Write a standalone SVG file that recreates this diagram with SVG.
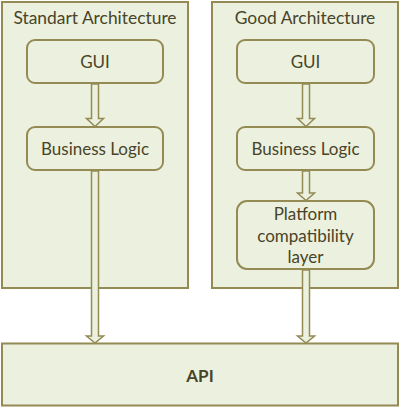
<svg xmlns="http://www.w3.org/2000/svg" width="400" height="407" viewBox="0 0 400 407">
<style>
.cont{fill:#EBF1DE;stroke:#948A54;stroke-width:2}
.box{fill:#EBF1DE;stroke:#948A54;stroke-width:2}
.arr{fill:#EBF1DE;stroke:#948A54;stroke-width:1.5;stroke-linejoin:miter}
text{font-family:Lato,"Open Sans",sans-serif;fill:#494429;text-anchor:middle;font-size:17px}
.title{font-size:17.4px}
.api{font-weight:bold}
</style>
<rect width="400" height="407" fill="#FFFFFF"/>
<g id="standard-architecture">
<rect class="cont" x="2" y="2" width="186" height="286"/>
<text class="title" x="95" y="24">Standart Architecture</text>
</g>
<g id="good-architecture">
<rect class="cont" x="212" y="2" width="186" height="286"/>
<text class="title" x="305" y="24">Good Architecture</text>
</g>
<g id="api">
<rect class="cont" x="2" y="343.5" width="396" height="62"/>
<text class="api" x="200" y="382">API</text>
</g>
<g id="gui-left">
<rect class="box" x="27" y="40" width="136" height="43" rx="8"/>
<text x="95" y="68">GUI</text>
</g>
<g id="business-logic-left">
<rect class="box" x="27" y="127" width="136" height="43" rx="8"/>
<text x="95" y="155">Business Logic</text>
</g>
<g id="gui-right">
<rect class="box" x="237" y="40" width="137" height="43" rx="8"/>
<text x="305.5" y="68">GUI</text>
</g>
<g id="business-logic-right">
<rect class="box" x="237" y="127" width="137" height="43" rx="8"/>
<text x="305.5" y="155">Business Logic</text>
</g>
<g id="platform-layer">
<rect class="box" x="237" y="201" width="137" height="68" rx="10"/>
<text x="305.5" y="220">Platform</text>
<text x="305.5" y="242">compatibility</text>
<text x="305.5" y="263">layer</text>
</g>
<g id="connectors">
<path class="arr" d="M91.5 84 V118.5 H86.5 L95 126.5 L103.5 118.5 H98.5 V84 Z"/>
<path class="arr" d="M91.5 171 V336 H86.5 L95 343 L103.5 336 H98.5 V171 Z"/>
<path class="arr" d="M302.5 84 V118.5 H297.5 L306 126.5 L314.5 118.5 H309.5 V84 Z"/>
<path class="arr" d="M302.5 171 V193 H297.5 L306 200.5 L314.5 193 H309.5 V171 Z"/>
<path class="arr" d="M302.5 270 V336 H297.5 L306 343 L314.5 336 H309.5 V270 Z"/>
</g>
</svg>
